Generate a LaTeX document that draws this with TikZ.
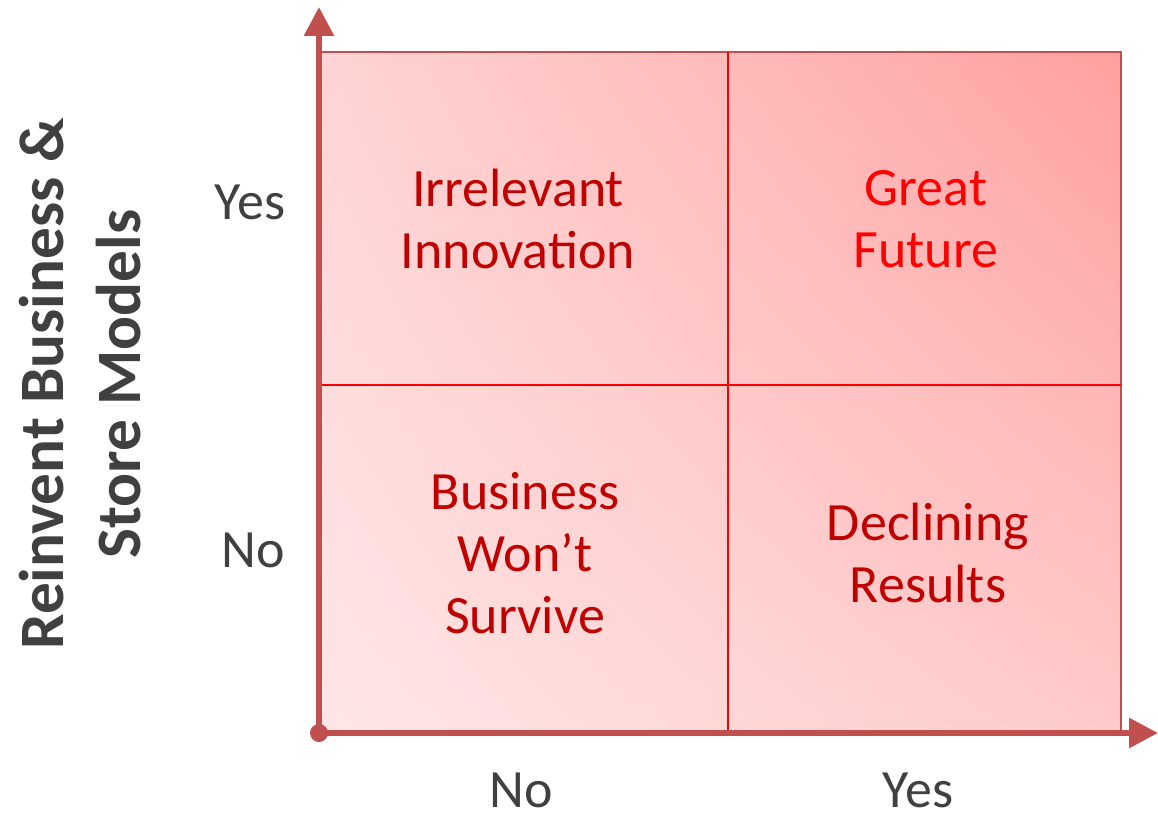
\documentclass[tikz,border=0pt]{standalone}
\usepackage{fontspec}
\setmainfont{Carlito}
\usetikzlibrary{arrows.meta, positioning, shadings}

\definecolor{axisred}{HTML}{C0504D}
\definecolor{darkred}{HTML}{C00000}
\definecolor{labelgrey}{HTML}{404040}
\definecolor{pinkLL}{HTML}{FFE6E6}
\definecolor{pinkUL}{HTML}{FFD4D4}
\definecolor{pinkLR}{HTML}{FFCACA}
\definecolor{pinkUR}{HTML}{FFA0A0}

\tikzset{
    quad/.style={align=center, text=darkred, font=\fontsize{30.7}{35.3}\selectfont},
    tick/.style={text=labelgrey, inner sep=0pt, font=\fontsize{30.7}{35.3}\selectfont},
    axis/.style={axisred, line width=3.4pt, ->}
}

\begin{document}
\begin{tikzpicture}[x=0.02cm, y=-0.02cm, >={Triangle[length=16.5pt, width=16.5pt]}]
    \useasboundingbox (0,0) rectangle (1158,813);
    % 1. Shaded 2x2 matrix
    \shade[lower left=pinkLL, upper left=pinkUL, lower right=pinkLR, upper right=pinkUR]
        (319,52) rectangle (1121,733);
    \draw[axisred, line width=1.3pt] (319,52) -- (1121,52) -- (1121,733);
    \draw[red, line width=1.2pt] (728,52) -- (728,733);
    \draw[red, line width=1.2pt] (319,385) -- (1121,385);
    % 2. Axes
    \coordinate (origin) at (319,733);
    \coordinate (ytip) at (319,7);
    \coordinate (xtip) at (1158,733);
    \draw[axis] (origin) -- (ytip);
    \draw[axis] (origin) -- (xtip);
    \fill[axisred] (origin) circle (9);
    % 3. Quadrant labels
    \node[quad] (irrelevant) at (518,219) {Irrelevant\\Innovation};
    \node[quad, text=red] (future) at (926,219) {Great\\Future};
    \node[quad] (survive) at (525,553) {Business\\Won’t\\Survive};
    \node[quad] (declining) at (928,553) {Declining\\Results};
    % 4. Tick labels
    \node[tick] (yyes) at (250,202) {Yes};
    \node[tick] (yno) at (253,550) {No};
    \node[tick] (xno) at (521,790) {No};
    \node[tick] (xyes) at (918,790) {Yes};
    % Axis title
    \node[rotate=90, align=center, text=labelgrey, font=\bfseries\fontsize{36}{43.8}\selectfont]
        (ytitle) at (80,384) {Reinvent Business \&\\Store Models};
\end{tikzpicture}
\end{document}
